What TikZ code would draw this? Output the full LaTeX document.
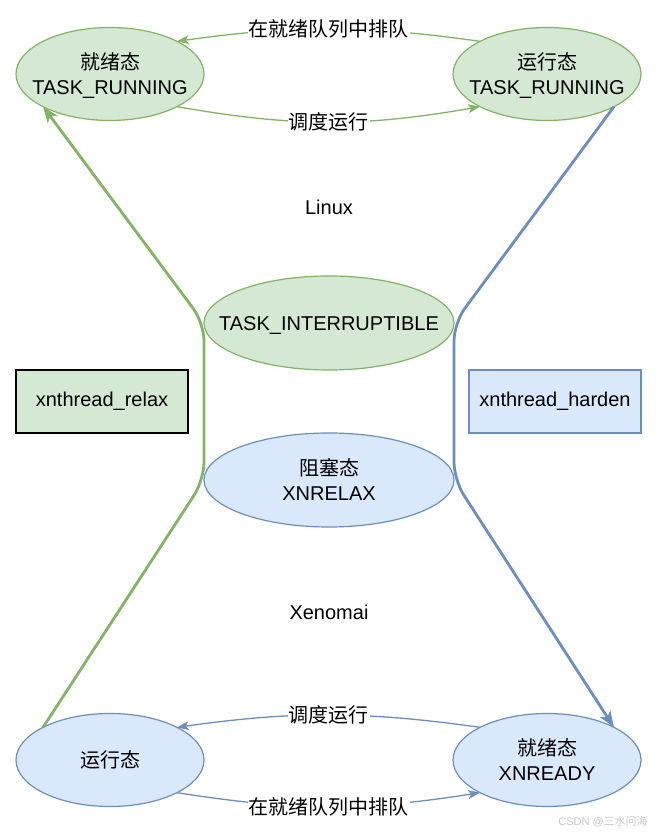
\documentclass[tikz,border=0pt]{standalone}
\usepackage{fontspec}
\setmainfont{Liberation Sans}
\newfontfamily\cjk{Noto Sans CJK SC}
\usepackage{tikz}
\usetikzlibrary{shapes.geometric, arrows.meta}
\definecolor{cGreenFill}{RGB}{213,232,212}
\definecolor{cGreenLine}{RGB}{130,179,102}
\definecolor{cBlueFill}{RGB}{218,232,252}
\definecolor{cBlueLine}{RGB}{108,142,191}
% text inside an ellipse, kept from widening it
\newcommand{\inell}[1]{\raisebox{-3pt}[\height][\depth]{\makebox[0pt]{\begin{tabular}{@{}c@{}}#1\end{tabular}}}}
\tikzset{
	state/.style   ={ellipse, draw, line width=1.2pt, inner sep=0pt, outer sep=0pt, minimum width=188pt, minimum height=93pt},
	bigstate/.style={state, minimum width=250pt, minimum height=94pt},
	gstate/.style  ={fill=cGreenFill, draw=cGreenLine},
	bstate/.style  ={fill=cBlueFill, draw=cBlueLine},
	fnbox/.style   ={rectangle, line width=1.2pt, inner sep=0pt, outer sep=0pt, minimum width=172pt, minimum height=63pt},
	qarrow/.style  ={-{Stealth[length=12pt, width=9pt, inset=3pt]}, line width=1.3pt},
	swarrow/.style ={-{Stealth[length=16pt, width=12pt, inset=4pt]}, line width=2.8pt, rounded corners=18pt},
	elabel/.style  ={fill=white, text=black, inner sep=1pt},
}
\begin{document}
\begin{tikzpicture}[x=1pt, y=1pt, font=\fontsize{20}{25}\selectfont]
	\useasboundingbox (0,0) rectangle (658,837);
	% Linux states
	\node[state, gstate] (rdyL) at (110,763) {\inell{{\cjk 就绪态}\\TASK\_RUNNING}};
	\node[state, gstate] (runL) at (547,763) {\inell{{\cjk 运行态}\\TASK\_RUNNING}};
	\node (linux) at (329,630) {Linux};
	\node[bigstate, gstate] (intr) at (329,514) {\inell{TASK\_INTERRUPTIBLE}};
	% switch functions
	\node[fnbox, fill=cGreenFill, draw=black] (relaxfn) at (102,435.5) {xnthread\_relax};
	\node[fnbox, fill=cBlueFill, draw=cBlueLine] (hardenfn) at (555,435.5) {xnthread\_harden};
	% Xenomai states
	\node[bigstate, bstate] (relax) at (329,357) {\inell{{\cjk 阻塞态}\\XNRELAX}};
	\node (xeno) at (329,225) {Xenomai};
	\node[state, bstate] (runX) at (110,77) {\inell{{\cjk 运行态}}};
	\node[state, bstate] (rdyX) at (547,77) {\inell{{\cjk 就绪态}\\XNREADY}};
	\node[text=gray!45, font=\fontsize{11}{13}\selectfont] (mark) at (603,15) {CSDN @{\cjk 三水问海}};

	\draw[qarrow, color=cGreenLine] (runL.154) to[bend right=8] node[elabel] {\cjk 在就绪队列中排队} (rdyL.26);
	\draw[qarrow, color=cGreenLine] (rdyL.-26) to[bend right=10] node[elabel] {\cjk 调度运行} (runL.206);
	\draw[qarrow, color=cBlueLine] (rdyX.154) to[bend right=8] node[elabel] {\cjk 调度运行} (runX.26);
	\draw[qarrow, color=cBlueLine] (runX.-26) to[bend right=9] node[elabel] {\cjk 在就绪队列中排队} (rdyX.206);

	\draw[swarrow, color=cGreenLine] (runX.154) -- (relax.west) -- (intr.west) -- (rdyL.206);
	\draw[swarrow, color=cBlueLine] (runL.-26) -- (intr.east) -- (relax.east) -- (rdyX.26);
\end{tikzpicture}
\end{document}
